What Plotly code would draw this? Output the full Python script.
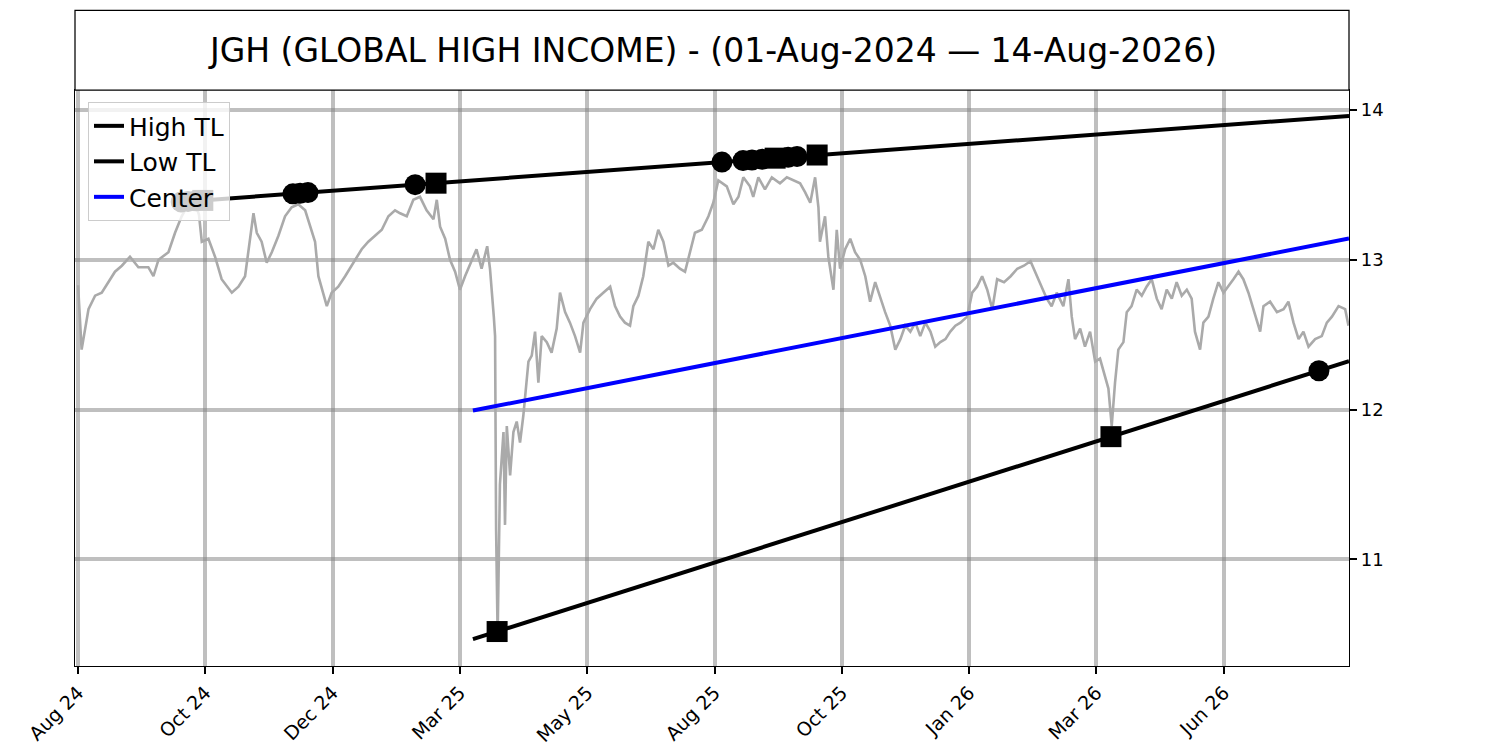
import plotly.graph_objects as go

# bar index -> close
price_idx = [0, 1.4, 4.1, 6.7, 9.3, 11.9, 14.5, 17.2, 20.4, 23.7, 27.6, 29.6, 31.6, 35.5, 38.1, 40.7, 42.0, 46, 47.5, 48.6,
             51.2, 53.8, 56.4, 60.4, 63, 65.6, 66.9, 68.9, 70.2, 72.1, 74.1, 76.1, 78.7, 81.3, 83.9, 86.5, 89.2, 91.1, 93.1,
             94.4, 96.4, 97.7, 99.6, 102.2, 104.9, 107.5, 111.4, 114, 116.7, 119.3, 121.9, 124.5,
             126.5, 129.1, 131.7, 134.3, 136.9, 139.6, 140.9, 142.2, 144.2, 146.1, 148.1, 150, 152, 154.6, 156.5, 158.5,
             160.7, 161.8, 162.9, 163.3, 163.8, 164.2, 164.8, 165.7, 167.1, 167.7, 168.4, 169.7, 171, 172.3, 173.6, 174.9,
             176.9, 178.2, 179.5, 180.8, 182.1, 184.1, 186, 188, 189.3, 191.3, 193.2, 195.2, 197.2, 198.5, 201.1, 203.7,
             206.3, 209, 210.9, 212.9, 214.8, 216.8, 218.1, 220.1, 222, 224, 226, 227.9, 229.9, 231.9, 233.8, 236.4, 238.4,
             240.4, 242.3, 245, 247.6, 249.5, 251.5,
             254.8, 257.4, 259.4, 261.3, 263.9, 265.2, 267.2, 269.8, 272.5, 275.7, 278.4, 281, 283.6, 285.6, 287.6, 289.5,
             290.8, 291.4, 293.4, 294.7, 296.7, 298, 299.3, 301.3, 303.3, 305.2, 307.2, 309.2, 311.1, 313.1, 315.1, 317,
             319, 321, 323, 324.9, 326.9, 328.9, 330.8, 332.8, 334.8, 336.7, 338.7, 340.7, 342.6, 344.6, 346.6, 349.2,
             351.2, 353.1, 355.1, 357.1, 359.1, 361, 363.7, 366.3, 368.9, 371.5, 374.1,
             377.8, 380.5, 382.4, 384.4, 387, 389, 390.3, 391.6, 393.6, 395.5, 397.5, 399.5, 401.4, 403.4, 404.7, 406,
             407.3, 408.6, 410.6, 411.9, 413.8, 415.8, 417.8, 419.7, 421.7, 423.7, 425.6, 427.6, 429.6, 431.5, 433.5,
             435.5, 437.4, 438.7, 440.7, 442, 444, 445.9, 447.9, 449.9, 451.8, 453.8, 455.8, 457.7, 459.7, 461.7, 464.3,
             465.6, 468.2, 470.9, 473.5, 475.4, 477.4, 479.4, 481.3, 483.3, 485.9, 488.5, 490.5, 492.5, 495.1, 497.7, 499]
price_close = [12.83, 12.40, 12.67, 12.76, 12.78, 12.85, 12.92, 12.96, 13.02, 12.95, 12.95, 12.89, 13.00, 13.05, 13.18, 13.29, 13.33, 13.38, 13.30, 13.12,
               13.14, 13.02, 12.87, 12.78, 12.82, 12.89, 13.07, 13.31, 13.18, 13.12, 12.98, 13.05, 13.16, 13.29, 13.35, 13.37, 13.33, 13.22, 13.12,
               12.89, 12.76, 12.69, 12.78, 12.82, 12.89, 12.96, 13.07, 13.12, 13.16, 13.20, 13.29, 13.33,
               13.31, 13.29, 13.40, 13.42, 13.33, 13.27, 13.40, 13.22, 13.14, 13.00, 12.92, 12.80, 12.89, 13.00, 13.07, 12.94,
               13.09, 12.94, 12.74, 12.62, 12.49, 11.20, 10.49, 11.50, 11.85, 11.23, 11.89, 11.56, 11.85, 11.92, 11.78, 11.96,
               12.32, 12.36, 12.52, 12.18, 12.49, 12.45, 12.38, 12.54, 12.78, 12.65, 12.58, 12.49, 12.38, 12.58, 12.67, 12.74,
               12.78, 12.82, 12.69, 12.62, 12.58, 12.56, 12.69, 12.76, 12.89, 13.12, 13.07, 13.20, 13.12, 12.96, 12.98, 12.94, 12.92,
               13.05, 13.18, 13.20, 13.29, 13.38, 13.53,
               13.49, 13.37, 13.42, 13.55, 13.49, 13.42, 13.55, 13.47, 13.55, 13.51, 13.55, 13.53, 13.51, 13.45, 13.38, 13.55,
               13.35, 13.12, 13.29, 13.02, 12.80, 13.20, 12.94, 13.07, 13.14, 13.05, 13.00, 12.89, 12.72, 12.85, 12.74, 12.65,
               12.56, 12.40, 12.47, 12.56, 12.52, 12.58, 12.49, 12.58, 12.52, 12.42, 12.45, 12.47, 12.52, 12.56, 12.58, 12.62,
               12.78, 12.82, 12.89, 12.80, 12.67, 12.87, 12.85, 12.89, 12.94, 12.96, 12.99,
               12.85, 12.74, 12.69, 12.78, 12.69, 12.87, 12.62, 12.47, 12.54, 12.42, 12.52, 12.32, 12.34, 12.22, 12.14, 11.89,
               12.18, 12.40, 12.45, 12.65, 12.69, 12.80, 12.76, 12.82, 12.87, 12.74, 12.67, 12.80, 12.74, 12.85, 12.76,
               12.80, 12.74, 12.52, 12.40, 12.58, 12.62, 12.74, 12.85, 12.78, 12.82, 12.87, 12.92, 12.87, 12.78, 12.67, 12.52,
               12.69, 12.72, 12.65, 12.67, 12.72, 12.58, 12.47, 12.52, 12.42, 12.47, 12.49, 12.58, 12.62, 12.69, 12.67, 12.56]

# trend lines (start / end)
high_tl_x = [40.5, 499.2]
high_tl_y = [13.386, 13.960]
low_tl_x = [155.1, 499.2]
low_tl_y = [10.467, 12.323]
center_x = [155.1, 499.2]
center_y = [11.993, 13.142]

# pivot markers
high_circle_x = [40.5, 43.2, 46.4, 84.4, 87.2, 90.3, 132.4, 252.9, 261.2, 264.7, 268.7, 278.9, 282.4]
high_circle_y = [13.386, 13.389, 13.393, 13.440, 13.444, 13.448, 13.501, 13.652, 13.662, 13.666, 13.671, 13.684, 13.689]
high_square_x = [49.0, 140.6, 273.8, 290.3]
high_square_y = [13.396, 13.511, 13.678, 13.699]
low_circle_x = [487.4]
low_circle_y = [12.259]
low_square_x = [164.6, 405.7]
low_square_y = [10.518, 11.819]

tick_idx = [0, 50, 100, 150, 200, 250, 300, 350, 400, 450]
tick_labels = ["Aug 24", "Oct 24", "Dec 24", "Mar 25", "May 25",
               "Aug 25", "Oct 25", "Jan 26", "Mar 26", "Jun 26"]

title_text = "JGH (GLOBAL HIGH INCOME) - (01-Aug-2024 — 14-Aug-2026)"

fig = go.Figure()

fig.add_trace(go.Scatter(x=price_idx, y=price_close, mode="lines",
                         line=dict(color="#aaaaaa", width=2.6), showlegend=False, hoverinfo="skip"))
fig.add_trace(go.Scatter(x=high_tl_x, y=high_tl_y, mode="lines", name="High TL",
                         line=dict(color="black", width=4)))
fig.add_trace(go.Scatter(x=low_tl_x, y=low_tl_y, mode="lines", name="Low TL",
                         line=dict(color="black", width=4)))
fig.add_trace(go.Scatter(x=center_x, y=center_y, mode="lines", name="Center",
                         line=dict(color="#0000ff", width=4)))

for xs, ys, sym in [(high_circle_x, high_circle_y, "circle"),
                    (high_square_x, high_square_y, "square"),
                    (low_circle_x, low_circle_y, "circle"),
                    (low_square_x, low_square_y, "square")]:
    fig.add_trace(go.Scatter(x=xs, y=ys, mode="markers", showlegend=False,
                             marker=dict(symbol=sym, size=21, color="black", line=dict(width=0))))

# title box above the plot
fig.add_shape(type="rect", xref="paper", yref="paper", x0=0, x1=1, y0=1, y1=1.1384,
              line=dict(color="black", width=1.25), fillcolor="white")
fig.add_annotation(text=title_text, xref="paper", yref="paper", x=0.5, y=1.0692,
                   showarrow=False, font=dict(size=33, color="black"), xanchor="center", yanchor="middle")

# page body adds 8px, margins compensate for it
fig.update_layout(
    width=1500, height=750,
    margin=dict(l=67, r=159, t=82, b=90),
    plot_bgcolor="white", paper_bgcolor="white",
    font=dict(family="DejaVu Sans", color="black"),
    legend=dict(x=0.0102, y=0.979, xanchor="left", yanchor="top",
                bgcolor="rgba(255,255,255,0.8)", bordercolor="#cccccc", borderwidth=1,
                font=dict(size=25), itemwidth=30, tracegroupgap=0),
)
fig.update_xaxes(range=[-1.2, 499.2], tickmode="array", tickvals=tick_idx, ticktext=tick_labels,
                 tickangle=-45, ticks="outside", ticklen=7, tickwidth=1.5, tickcolor="black",
                 tickfont=dict(size=19), showgrid=True, gridcolor="rgba(128,128,128,0.5)", gridwidth=3.5,
                 showline=True, linecolor="black", linewidth=1.25, mirror=True, zeroline=False)
fig.update_yaxes(range=[10.288, 14.133], side="right", tickvals=[11, 12, 13, 14],
                 ticks="outside", ticklen=7, tickwidth=1.5, tickcolor="black",
                 tickfont=dict(size=18), showgrid=True, gridcolor="rgba(128,128,128,0.5)", gridwidth=3.5,
                 showline=True, linecolor="black", linewidth=1.25, mirror=True, zeroline=False)

fig.write_html("out.html")
